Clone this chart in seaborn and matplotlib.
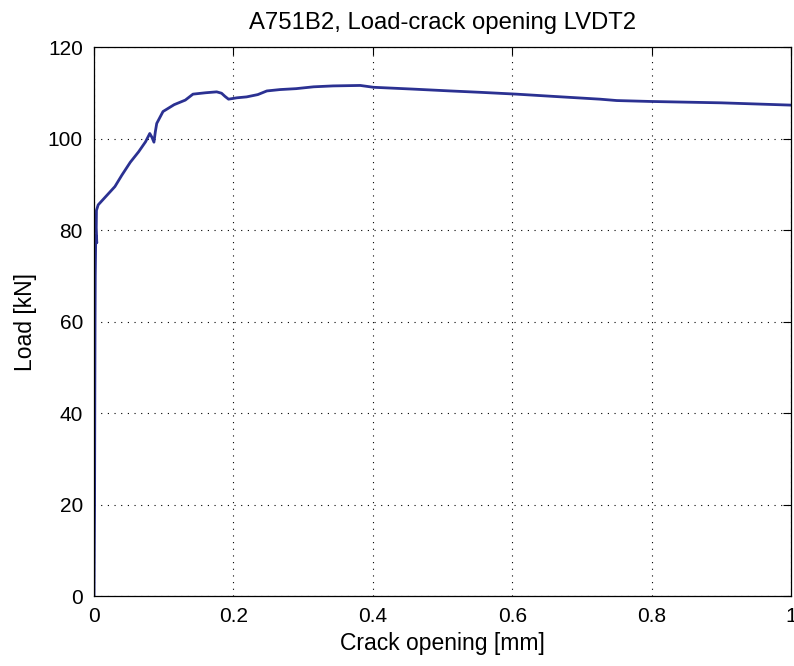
import numpy as np
import pandas as pd
import seaborn as sns
import matplotlib.pyplot as plt

# crack opening [mm] and load [kN]
crack = [0.0, 0.0008, 0.0012, 0.0015, 0.0018, 0.0025, 0.0040, 0.0032, 0.0035,
         0.0060, 0.0150, 0.0300, 0.0400, 0.0520, 0.0640, 0.0740, 0.0800,
         0.0830, 0.0860, 0.0880, 0.0900, 0.0990, 0.1150, 0.1310, 0.1420,
         0.1600, 0.1760, 0.1830, 0.1880, 0.1930, 0.2050, 0.2190, 0.2350,
         0.2480, 0.2670, 0.2900, 0.3150, 0.3430, 0.3820, 0.4010, 0.4580,
         0.5110, 0.5540, 0.6060, 0.6600, 0.7260, 0.7500, 0.7980, 0.9000, 1.0]
load = [0.0, 20.0, 45.0, 60.0, 70.0, 78.8, 77.2, 80.5, 84.3,
        85.5, 87.0, 89.5, 92.0, 94.8, 97.1, 99.3, 101.1,
        100.3, 99.2, 101.5, 103.3, 105.9, 107.4, 108.4, 109.7,
        110.0, 110.2, 109.9, 109.2, 108.6, 108.9, 109.1, 109.6,
        110.4, 110.7, 110.9, 111.3, 111.5, 111.6, 111.2, 110.8,
        110.4, 110.1, 109.7, 109.2, 108.6, 108.3, 108.1, 107.8, 107.3]

df = pd.DataFrame({"crack": crack, "load": load})

sns.set_style("white")
plt.rcParams["font.family"] = ["Liberation Sans", "DejaVu Sans"]

fig = plt.figure(figsize=(7.94, 6.66), dpi=100)
ax = fig.add_axes([0.1184, 0.1051, 0.8778, 0.8243])

sns.lineplot(data=df, x="crack", y="load", sort=False, estimator=None,
             color="#2b3192", linewidth=2.0, ax=ax)

ax.set_xlim(0, 1)
ax.set_ylim(0, 120)
ax.set_xticks(np.arange(0, 1.01, 0.2))
ax.set_xticklabels(["0", "0.2", "0.4", "0.6", "0.8", "1"])
ax.set_yticks(np.arange(0, 121, 20))
ax.grid(True, color="black", linestyle=(0, (1, 5)), linewidth=0.8)
ax.tick_params(direction="in", length=6, width=0.8, labelsize=15,
               top=True, right=True, colors="black")
ax.tick_params(axis="x", pad=8)
ax.tick_params(axis="y", pad=8)
for s in ax.spines.values():
    s.set_color("black")
    s.set_linewidth(0.9)

ax.set_xlabel("Crack opening [mm]", fontsize=16.5, labelpad=4, color="black")
ax.set_ylabel("Load [kN]", fontsize=16.5, labelpad=8, color="black")
ax.set_title("A751B2, Load-crack opening LVDT2", fontsize=17.2, pad=13,
             color="black")

fig.savefig("out.png", dpi=100)
